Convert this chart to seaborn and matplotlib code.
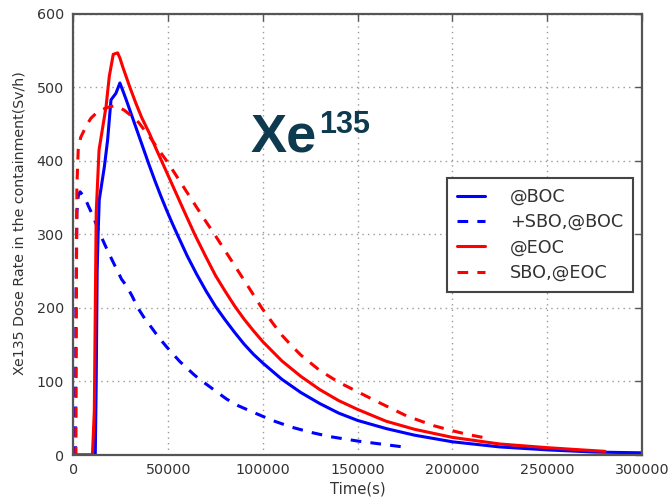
import numpy as np
import pandas as pd
import matplotlib
matplotlib.use("Agg")
import matplotlib.pyplot as plt
import seaborn as sns

# ---- data ----
series_names = ["@BOC", "+SBO,@BOC", "@EOC", "SBO,@EOC"]

time_boc = [0, 11500, 12000, 12500, 13000, 13600, 16300, 18000, 19800, 22400, 24500,
            26000, 28000, 31000, 34000, 37000, 40000, 43000, 46000, 49000, 52000, 54800,
            60000, 65000, 70000, 75000, 80000, 85000, 90000, 95000, 100000, 110000, 120000,
            130000, 140000, 150000, 165000, 180000, 200000, 225000, 250000, 275000, 300000]
dose_boc = [0, 0, 100, 250, 300, 347, 392, 428, 483, 492, 506,
            496, 482, 460, 438, 416, 394, 373, 353, 334, 316, 300,
            271, 246, 223, 202, 184, 167, 151, 137, 125, 103, 85,
            70, 57, 47, 36, 27, 18, 11, 7, 4, 3]

time_sbo_boc = [0, 1000, 1300, 1800, 2500, 3500, 6000, 8000, 10500, 13000, 15700, 18000,
                21000, 25400, 28000, 31000, 34000, 37500, 41000, 45000, 49200, 53000, 56200,
                60000, 63300, 67000, 70300, 75000, 80900, 87000, 95000, 105000, 115000,
                125000, 135400, 150000, 162000, 174000]
dose_sbo_boc = [0, 0, 200, 330, 352, 358, 350, 338, 324, 307, 291, 278,
                262, 239, 230, 216, 200, 186, 174, 160, 147, 136, 127,
                118, 110, 102, 96, 87, 76, 67, 58, 47, 38,
                31, 25, 19, 15, 11]

time_eoc = [0, 10000, 11000, 12000, 13500, 17200, 18900, 21000, 23300, 24500, 26000, 29800,
            33000, 36000, 40000, 43000, 46500, 50000, 54000, 58000, 61000, 64000, 70000,
            75000, 80000, 85000, 90000, 95000, 100000, 110000, 120000, 130000, 140000,
            150000, 165000, 180000, 200000, 225000, 250000, 265000, 280600]
dose_eoc = [0, 0, 60, 330, 415, 474, 515, 545, 547, 540, 528, 500,
            478, 459, 438, 420, 400, 380, 357, 334, 317, 300, 269,
            244, 223, 203, 185, 169, 154, 128, 107, 89, 74,
            62, 46, 35, 24, 15, 10, 7.5, 5]

time_sbo_eoc = [0, 1300, 1500, 1800, 2500, 3800, 5700, 7500, 9200, 12800, 16300, 19500,
                22400, 26800, 31200, 34500, 37400, 41000, 45000, 49200, 53000, 57000, 61000,
                65000, 69000, 74500, 80000, 87000, 93000, 99400, 105000, 110000, 115000,
                120000, 130000, 140000, 150000, 160000, 176000, 190000, 200000, 208000, 216000]
dose_sbo_eoc = [0, 0, 200, 365, 415, 432, 442, 451, 458, 467, 471, 474,
                475, 469, 460, 452, 442, 430, 415, 400, 385, 369, 353,
                337, 321, 300, 278, 250, 226, 200, 180, 163, 149,
                136, 115, 99, 86, 73, 53, 40, 33, 28, 24]

x_ticks = [0, 50000, 100000, 150000, 200000, 250000, 300000]
y_ticks = [0, 100, 200, 300, 400, 500, 600]

# ---- long-form table ----
frames = []
for name, t, d in [(series_names[0], time_boc, dose_boc),
                   (series_names[1], time_sbo_boc, dose_sbo_boc),
                   (series_names[2], time_eoc, dose_eoc),
                   (series_names[3], time_sbo_eoc, dose_sbo_eoc)]:
    frames.append(pd.DataFrame({"time": t, "dose": d, "series": name}))
df = pd.concat(frames, ignore_index=True)

sns.set_style("white")
plt.rcParams["font.family"] = ["DejaVu Sans"]

fig = plt.figure(figsize=(6.71, 5.03), dpi=100)
ax = fig.add_axes([0.1095, 0.0954, 0.847, 0.877])

palette = {"@BOC": "#0000ff", "+SBO,@BOC": "#0000ff", "@EOC": "#ff0000", "SBO,@EOC": "#ff0000"}
dashes = {"@BOC": "", "+SBO,@BOC": (3.5, 3), "@EOC": "", "SBO,@EOC": (3.5, 3)}

sns.lineplot(data=df, x="time", y="dose", hue="series", style="series",
             hue_order=series_names, style_order=series_names,
             palette=palette, dashes=dashes, estimator=None, sort=False,
             linewidth=2.2, legend=False, ax=ax)

ax.set_xlim(0, 300000)
ax.set_ylim(0, 600)
ax.set_xticks(x_ticks)
ax.set_yticks(y_ticks)
ax.ticklabel_format(style="plain", axis="x", useOffset=False)

ax.grid(True, color="#9a9a9a", linestyle=(0, (1, 3)), linewidth=1.0)
for sp in ax.spines.values():
    sp.set_visible(True)
    sp.set_color("#555555")
    sp.set_linewidth(1.6)

ax.tick_params(axis="both", direction="in", length=5, width=1, color="#555555",
               labelsize=10.3, labelcolor="#333333", top=True, right=True)
ax.tick_params(axis="x", pad=6)
ax.tick_params(axis="y", pad=7)

ax.set_xlabel("Time(s)", fontsize=10.6, color="#333333", labelpad=3)
ax.set_ylabel("Xe135 Dose Rate in the containment(Sv/h)", fontsize=10.2, color="#333333")
ax.yaxis.set_label_coords(-0.082, 0.525)

# legend
handles = ax.get_lines()[:4]
leg = ax.legend(handles, series_names, loc="upper right", bbox_to_anchor=(0.984, 0.628),
                fontsize=12.7, frameon=True, fancybox=False, framealpha=1,
                edgecolor="#444444", borderpad=0.55, labelspacing=0.42,
                handlelength=1.6, handletextpad=1.4, borderaxespad=0)
leg.get_frame().set_linewidth(1.5)
for txt in leg.get_texts():
    txt.set_color("#333333")

# Xe135 annotation
navy = "#0d3a4f"
ax.text(93700, 413, "Xe", fontsize=39, fontweight="bold", color=navy,
        family=["Liberation Sans", "DejaVu Sans"], ha="left", va="baseline")
ax.text(129500, 438, "135", fontsize=22, fontweight="bold", color=navy,
        family=["Liberation Sans", "DejaVu Sans"], ha="left", va="baseline")

fig.savefig("out.png", dpi=100, facecolor="white")
